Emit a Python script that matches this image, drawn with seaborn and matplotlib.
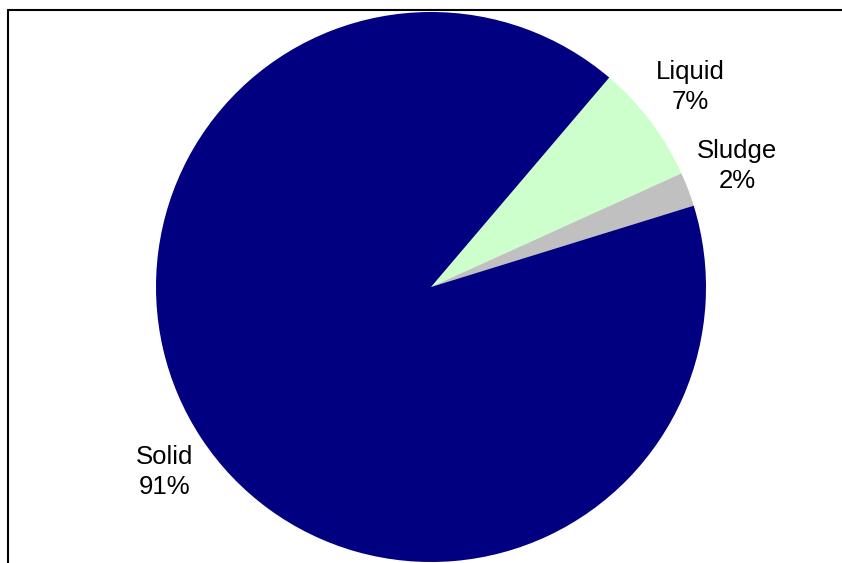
import matplotlib
matplotlib.use("Agg")
import matplotlib.pyplot as plt
import seaborn as sns

# Waste composition by physical state
categories = ["Liquid", "Sludge", "Solid"]
shares = [7, 2, 91]
colors = ["#CCFFCC", "#C0C0C0", "#000080"]

sns.set_theme(style="white")
plt.rcParams["font.family"] = ["Liberation Sans", "DejaVu Sans"]

W, H = 842, 563
fig = plt.figure(figsize=(W / 100, H / 100), dpi=100)
ax = fig.add_axes([0, 0, 1, 1])

cx, cy, r = 431, H - 287, 275
ax.pie(shares, colors=colors, startangle=49.6, counterclock=False,
       center=(cx, cy), radius=r, wedgeprops=dict(linewidth=0))
ax.set_xlim(0, W)
ax.set_ylim(0, H)
ax.set_aspect("equal")
ax.axis("off")

# labels: category name and share
label_pos = {"Liquid": (690, 87), "Sludge": (737, 166), "Solid": (165, 472)}
for name, val in zip(categories, shares):
    x, y = label_pos[name]
    ax.text(x, H - y, f"{name}\n{val}%", ha="center", va="center",
            fontsize=18.5, linespacing=1.35, color="black")

# chart frame (top and left edges)
ax.plot([8, W], [H - 10, H - 10], color="black", lw=1.5, clip_on=False)
ax.plot([8, 8], [H - 10, 0], color="black", lw=1.5, clip_on=False)

fig.savefig("out.png", dpi=100)
